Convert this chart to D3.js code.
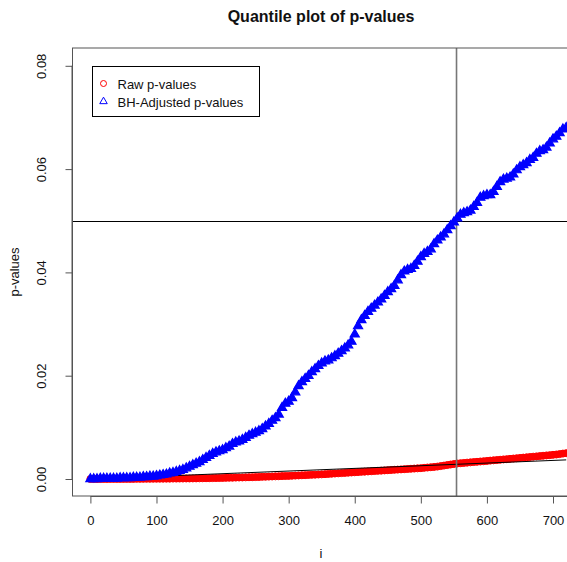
<!DOCTYPE html>
<html>
<head>
<meta charset="utf-8">
<script src="https://cdn.jsdelivr.net/npm/d3@7"></script>
<style>
  body { margin: 0; background: #fff; }
  svg { display: block; font-family: "Liberation Sans", Arial, sans-serif; }
</style>
</head>
<body>
<div id="chart"></div>
<script>
// Size of the page and the plot box
const WIDTH = 567;
const HEIGHT = 562;
const BOX = { left: 72.5, top: 48, right: 600, bottom: 496 };

// Data: rank i (every 5th rank) and the two p-value series
const RANKS = d3.range(0, 721, 5);

const rawP = [
  0, 0, 0, 0, 0, 0, 0.00001, 0.00001, 0.00001, 0.00001,
  0.00001, 0.00002, 0.00002, 0.00002, 0.00003, 0.00003, 0.00003, 0.00004, 0.00004, 0.00005,
  0.00005, 0.00006, 0.00006, 0.00007, 0.00007, 0.00008, 0.00008, 0.00009, 0.00009, 0.0001,
  0.0001, 0.00011, 0.00012, 0.00013, 0.00014, 0.00015, 0.00016, 0.00017, 0.00018, 0.00019,
  0.0002, 0.00022, 0.00024, 0.00025, 0.00027, 0.00029, 0.0003, 0.00032, 0.00034, 0.00035,
  0.00037, 0.00039, 0.00042, 0.00044, 0.00046, 0.00049, 0.00051, 0.00053, 0.00056, 0.00058,
  0.0006, 0.00063, 0.00066, 0.00069, 0.00072, 0.00075, 0.00078, 0.00081, 0.00084, 0.00087,
  0.0009, 0.00094, 0.00098, 0.00102, 0.00106, 0.0011, 0.00114, 0.00118, 0.00122, 0.00126,
  0.0013, 0.00134, 0.00138, 0.00142, 0.00146, 0.0015, 0.00154, 0.00158, 0.00162, 0.00166,
  0.0017, 0.00174, 0.00178, 0.00182, 0.00186, 0.0019, 0.00194, 0.00198, 0.00202, 0.00206,
  0.0021, 0.00216, 0.00222, 0.00228, 0.00234, 0.0024, 0.0025, 0.0026, 0.0027, 0.0028,
  0.0029, 0.003, 0.00306, 0.00311, 0.00317, 0.00322, 0.00328, 0.00333, 0.00339, 0.00344,
  0.0035, 0.00356, 0.00362, 0.00367, 0.00373, 0.00379, 0.00384, 0.0039, 0.00396, 0.00402,
  0.00408, 0.00414, 0.0042, 0.00426, 0.00432, 0.00438, 0.00444, 0.0045, 0.00456, 0.00462,
  0.00468, 0.00474, 0.00482, 0.00492, 0.005
];

const adjP = [
  0.0000, 0.0000, 0.0000, 0.0001, 0.0001, 0.0001, 0.0001, 0.0001, 0.0001, 0.0002,
  0.0002, 0.0002, 0.0002, 0.0003, 0.0003, 0.0003, 0.0004, 0.0004, 0.0005, 0.0005,
  0.0006, 0.0007, 0.0008, 0.0009, 0.0011, 0.0012, 0.0014, 0.0016, 0.0018, 0.0021,
  0.0024, 0.0027, 0.0030, 0.0033, 0.0037, 0.0041, 0.0045, 0.0049, 0.0052, 0.0054,
  0.0056, 0.0060, 0.0063, 0.0068, 0.0071, 0.0073, 0.0076, 0.0080, 0.0084, 0.0087,
  0.0090, 0.0093, 0.0097, 0.0102, 0.0107, 0.0113, 0.0118, 0.0125, 0.0138, 0.0146,
  0.0150, 0.0157, 0.0168, 0.0180, 0.0188, 0.0194, 0.0200, 0.0207, 0.0213, 0.0219,
  0.0224, 0.0228, 0.0230, 0.0234, 0.0238, 0.0243, 0.0248, 0.0253, 0.0259, 0.0266,
  0.0280, 0.0296, 0.0308, 0.0316, 0.0324, 0.0330, 0.0336, 0.0342, 0.0348, 0.0355,
  0.0362, 0.0368, 0.0374, 0.0385, 0.0395, 0.0402, 0.0405, 0.0407, 0.0413, 0.0421,
  0.0430, 0.0436, 0.0440, 0.0445, 0.0455, 0.0462, 0.0468, 0.0474, 0.0482, 0.0490,
  0.0497, 0.0505, 0.0512, 0.0515, 0.0517, 0.0520, 0.0527, 0.0535, 0.0545, 0.0548,
  0.0550, 0.0550, 0.0556, 0.0566, 0.0575, 0.0580, 0.0582, 0.0584, 0.0590, 0.0598,
  0.0604, 0.0608, 0.0612, 0.0618, 0.0622, 0.0630, 0.0635, 0.0637, 0.0642, 0.0650,
  0.0658, 0.0663, 0.0670, 0.0677, 0.0680
];

// BH rejection line (two end points), cut-off level and number of rejections
const bhLine = [[0, 0], [720, 0.0037]];
const ALPHA = 0.05;
const N_REJECT = 554;

const X_TICKS = [0, 100, 200, 300, 400, 500, 600, 700];
const Y_TICKS = [0, 0.02, 0.04, 0.06, 0.08];
const LEGEND = [
  { label: 'Raw p-values', color: 'red', shape: 'circle' },
  { label: 'BH-Adjusted p-values', color: 'blue', shape: 'triangle' }
];

const x = d3.scaleLinear().domain([0, 700]).range([90.4, 553]);
const y = d3.scaleLinear().domain([0, 0.08]).range([479, 65.8]);

const svg = d3.select('#chart')
  .append('svg')
  .attr('width', WIDTH)
  .attr('height', HEIGHT);

svg.append('defs').append('clipPath')
  .attr('id', 'plot-clip')
  .append('rect')
  .attr('x', BOX.left)
  .attr('y', BOX.top)
  .attr('width', BOX.right - BOX.left)
  .attr('height', BOX.bottom - BOX.top);

// triangle like R's pch = 2, centred on the point
function triPath (s) {
  const r = 1.55 * s, yc = 0.775 * s, h = 1.342 * s;
  return `M0,${-r}L${h},${yc}L${-h},${yc}Z`;
}

const plot = svg.append('g').attr('clip-path', 'url(#plot-clip)');

const rawData = RANKS.map((r, k) => ({ i: r, p: rawP[k] }));
const adjData = RANKS.map((r, k) => ({ i: r, p: adjP[k] }));

// raw p-values
plot.append('g')
  .selectAll('circle')
  .data(rawData)
  .join('circle')
  .attr('cx', d => x(d.i))
  .attr('cy', d => y(d.p))
  .attr('r', 3.5)
  .attr('fill', 'red')
  .attr('stroke', 'red')
  .attr('stroke-width', 1);

// BH line
plot.append('path')
  .datum(bhLine)
  .attr('fill', 'none')
  .attr('stroke', 'black')
  .attr('stroke-width', 1)
  .attr('d', d3.line().x(d => x(d[0])).y(d => y(d[1])));

// reference lines
plot.append('line')
  .attr('x1', BOX.left).attr('x2', BOX.right)
  .attr('y1', Math.round(y(ALPHA)) + 0.5).attr('y2', Math.round(y(ALPHA)) + 0.5)
  .attr('stroke', 'black');

plot.append('line')
  .attr('x1', x(N_REJECT)).attr('x2', x(N_REJECT))
  .attr('y1', BOX.top).attr('y2', BOX.bottom)
  .attr('stroke', '#777')
  .attr('stroke-width', 1.6);

// adjusted p-values
plot.append('g')
  .selectAll('path')
  .data(adjData)
  .join('path')
  .attr('transform', d => `translate(${x(d.i)},${y(d.p)})`)
  .attr('d', triPath(3.4))
  .attr('fill', 'blue')
  .attr('stroke', 'blue')
  .attr('stroke-width', 1.2);

// box
svg.append('rect')
  .attr('x', BOX.left)
  .attr('y', BOX.top)
  .attr('width', BOX.right - BOX.left)
  .attr('height', BOX.bottom - BOX.top)
  .attr('fill', 'none')
  .attr('stroke', '#555')
  .attr('stroke-width', 1);

// x axis
const xAxis = d3.axisBottom(x)
  .tickValues(X_TICKS)
  .tickSize(7)
  .tickPadding(12)
  .tickFormat(d3.format('d'));

const gx = svg.append('g')
  .attr('transform', `translate(0, ${BOX.bottom + 0.5})`)
  .call(xAxis);

// y axis
const yAxis = d3.axisLeft(y)
  .tickValues(Y_TICKS)
  .tickSize(7)
  .tickPadding(0)
  .tickFormat(d3.format('.2f'));

const gy = svg.append('g')
  .attr('transform', `translate(${BOX.left}, 0)`)
  .call(yAxis);

[gx, gy].forEach(g => {
  g.selectAll('path.domain').attr('stroke', '#555');
  g.selectAll('.tick line').attr('stroke', '#555');
  g.selectAll('text')
    .attr('font-family', '"Liberation Sans", Arial, sans-serif')
    .attr('font-size', 13)
    .attr('fill', '#111');
});

// y labels are written along the axis, like R
gy.selectAll('.tick text')
  .attr('x', null)
  .attr('dy', null)
  .attr('text-anchor', 'middle')
  .attr('transform', 'translate(-27, 0) rotate(-90)');

gy.select('path.domain').remove();
gy.append('line')
  .attr('x1', -0.5).attr('x2', -0.5)
  .attr('y1', y(0.08)).attr('y2', y(0))
  .attr('stroke', '#555');

gx.select('path.domain').remove();
gx.append('line')
  .attr('x1', x(0)).attr('x2', WIDTH + 20)
  .attr('stroke', '#555');

// titles
svg.append('text')
  .attr('x', 321)
  .attr('y', 22)
  .attr('text-anchor', 'middle')
  .attr('font-size', 16)
  .attr('font-weight', 'bold')
  .attr('fill', '#111')
  .text('Quantile plot of p-values');

svg.append('text')
  .attr('x', 321)
  .attr('y', 558)
  .attr('text-anchor', 'middle')
  .attr('font-size', 13)
  .attr('fill', '#111')
  .text('i');

svg.append('text')
  .attr('transform', `translate(19, ${(BOX.top + BOX.bottom) / 2}) rotate(-90)`)
  .attr('text-anchor', 'middle')
  .attr('font-size', 13)
  .attr('fill', '#111')
  .text('p-values');

// legend
const legend = svg.append('g').attr('transform', 'translate(92.5, 66.5)');

legend.append('rect')
  .attr('width', 167)
  .attr('height', 50)
  .attr('fill', 'white')
  .attr('stroke', 'black');

const rows = legend.selectAll('g.row')
  .data(LEGEND)
  .join('g')
  .attr('class', 'row')
  .attr('transform', (d, k) => `translate(0, ${17 + k * 18})`);

rows.each(function (d) {
  const g = d3.select(this);
  if (d.shape === 'circle') {
    g.append('circle')
      .attr('cx', 11).attr('cy', 0).attr('r', 3)
      .attr('fill', 'none').attr('stroke', d.color);
  } else {
    g.append('path')
      .attr('transform', 'translate(11, 0)')
      .attr('d', triPath(2.8))
      .attr('fill', 'none').attr('stroke', d.color);
  }
  g.append('text')
    .attr('x', 25)
    .attr('y', 5)
    .attr('font-size', 13)
    .attr('fill', '#111')
    .text(d.label);
});
</script>
</body>
</html>
